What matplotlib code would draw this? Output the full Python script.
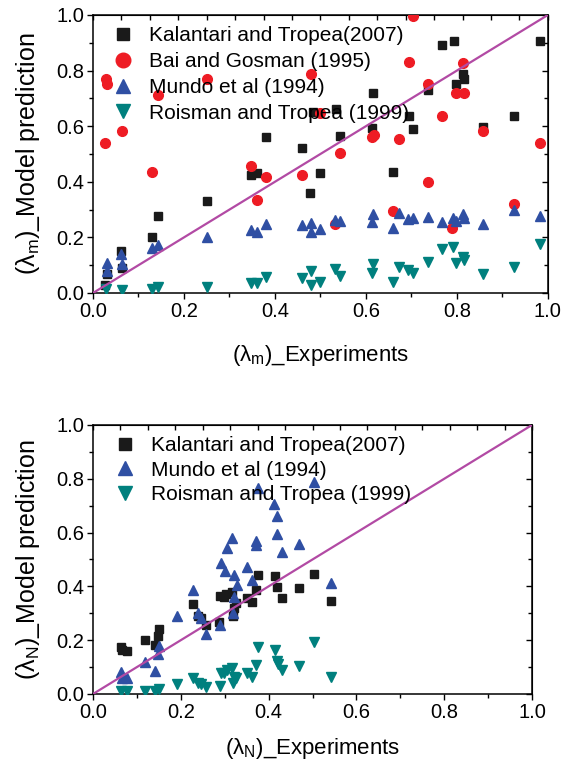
import numpy as np
import matplotlib
matplotlib.use("Agg")
import matplotlib.pyplot as plt
from matplotlib.ticker import MultipleLocator

plt.rcParams['font.family'] = ['Liberation Sans', 'DejaVu Sans']
plt.rcParams['mathtext.fontset'] = 'custom'
plt.rcParams['mathtext.rm'] = 'Liberation Sans'

# ---------------- data: top panel (lambda_m) ----------------
kal_m_x = [0.026, 0.03, 0.062, 0.064, 0.13, 0.143, 0.25, 0.347, 0.36, 0.38, 0.46, 0.477, 0.483, 0.50,
           0.534, 0.543, 0.613, 0.615, 0.66, 0.695, 0.703, 0.736, 0.767, 0.793, 0.798, 0.813, 0.815,
           0.857, 0.925, 0.982]
kal_m_y = [0.03, 0.07, 0.15, 0.09, 0.20, 0.277, 0.33, 0.425, 0.43, 0.56, 0.52, 0.36, 0.65, 0.43,
           0.66, 0.565, 0.593, 0.72, 0.435, 0.637, 0.59, 0.73, 0.892, 0.906, 0.752, 0.788, 0.77,
           0.597, 0.637, 0.907]

bai_m_x = [0.026, 0.029, 0.03, 0.064, 0.13, 0.143, 0.25, 0.347, 0.36, 0.38, 0.46, 0.48, 0.50, 0.532,
           0.543, 0.613, 0.617, 0.66, 0.672, 0.695, 0.703, 0.736, 0.736, 0.767, 0.79, 0.798, 0.813,
           0.815, 0.857, 0.925, 0.982]
bai_m_y = [0.54, 0.77, 0.75, 0.583, 0.435, 0.712, 0.77, 0.457, 0.335, 0.418, 0.425, 0.787, 0.648, 0.248,
           0.503, 0.56, 0.568, 0.295, 0.554, 0.83, 0.996, 0.75, 0.40, 0.637, 0.233, 0.72, 0.826,
           0.72, 0.583, 0.32, 0.54]

mun_m_x = [0.03, 0.03, 0.062, 0.064, 0.13, 0.143, 0.25, 0.347, 0.36, 0.38, 0.46, 0.48, 0.479, 0.5,
           0.532, 0.543, 0.613, 0.615, 0.66, 0.672, 0.692, 0.703, 0.736, 0.767, 0.791, 0.798, 0.813,
           0.815, 0.857, 0.925, 0.982]
mun_m_y = [0.107, 0.08, 0.14, 0.105, 0.162, 0.172, 0.20, 0.227, 0.22, 0.248, 0.245, 0.252, 0.22, 0.23,
           0.262, 0.259, 0.255, 0.284, 0.234, 0.288, 0.266, 0.27, 0.274, 0.255, 0.27, 0.259, 0.284,
           0.27, 0.248, 0.298, 0.277]

roi_m_x = [0.029, 0.064, 0.13, 0.143, 0.25, 0.347, 0.36, 0.38, 0.46, 0.48, 0.479, 0.5,
           0.532, 0.543, 0.613, 0.615, 0.66, 0.672, 0.692, 0.703, 0.736, 0.767, 0.791, 0.798, 0.813,
           0.815, 0.857, 0.925, 0.982]
roi_m_y = [0.014, 0.011, 0.014, 0.02, 0.022, 0.035, 0.035, 0.058, 0.053, 0.08, 0.03, 0.04,
           0.086, 0.061, 0.072, 0.104, 0.04, 0.094, 0.083, 0.072, 0.112, 0.158, 0.166, 0.108, 0.13,
           0.119, 0.068, 0.093, 0.176]

# ---------------- data: bottom panel (lambda_N) ----------------
kal_n_x = [0.063, 0.065, 0.078, 0.118, 0.141, 0.147, 0.15, 0.228, 0.24, 0.245, 0.257, 0.288, 0.289,
           0.299, 0.302, 0.316, 0.318, 0.321, 0.326, 0.35, 0.361, 0.371, 0.375, 0.415, 0.42, 0.431,
           0.468, 0.503, 0.541]
kal_n_y = [0.176, 0.164, 0.16, 0.20, 0.182, 0.217, 0.242, 0.333, 0.29, 0.284, 0.257, 0.269, 0.364,
           0.362, 0.37, 0.38, 0.29, 0.32, 0.338, 0.356, 0.343, 0.387, 0.442, 0.439, 0.399, 0.356,
           0.395, 0.445, 0.346]

mun_n_x = [0.063, 0.065, 0.078, 0.118, 0.141, 0.147, 0.15, 0.191, 0.228, 0.24, 0.245, 0.257, 0.289,
           0.291, 0.301, 0.304, 0.316, 0.318, 0.321, 0.321, 0.329, 0.35, 0.363, 0.371, 0.371, 0.375,
           0.413, 0.42, 0.42, 0.431, 0.468, 0.504, 0.541]
mun_n_y = [0.081, 0.061, 0.061, 0.12, 0.085, 0.148, 0.178, 0.29, 0.387, 0.30, 0.281, 0.223, 0.257,
           0.486, 0.457, 0.542, 0.579, 0.302, 0.362, 0.442, 0.405, 0.471, 0.424, 0.57, 0.554, 0.765,
           0.705, 0.662, 0.594, 0.527, 0.558, 0.789, 0.411]

roi_n_x = [0.063, 0.077, 0.118, 0.141, 0.15, 0.191, 0.228, 0.24, 0.245, 0.257, 0.289, 0.291, 0.299,
           0.304, 0.316, 0.321, 0.318, 0.326, 0.35, 0.363, 0.371, 0.375, 0.415, 0.42, 0.422, 0.431,
           0.468, 0.504, 0.541]
roi_n_y = [0.012, 0.012, 0.012, 0.012, 0.02, 0.037, 0.058, 0.04, 0.036, 0.027, 0.031, 0.079, 0.079,
           0.089, 0.098, 0.064, 0.042, 0.058, 0.077, 0.064, 0.108, 0.176, 0.164, 0.124, 0.112, 0.089,
           0.104, 0.194, 0.064]

ticks = [0.0, 0.2, 0.4, 0.6, 0.8, 1.0]
tick_labels = ['0.0', '0.2', '0.4', '0.6', '0.8', '1.0']

C_K = '#1a1a1a'
C_B = '#ee1c24'
C_M = '#2f4fa3'
C_R = '#00807e'
C_L = '#b24aa4'

fig = plt.figure(figsize=(5.63, 7.71), dpi=100)
ax1 = fig.add_axes([0.1652, 0.620, 0.808, 0.3606])
ax2 = fig.add_axes([0.1652, 0.0999, 0.780, 0.349])


def style(ax):
    ax.set_xlim(0, 1)
    ax.set_ylim(0, 1)
    ax.set_xticks(ticks)
    ax.set_xticklabels(tick_labels)
    ax.set_yticks(ticks)
    ax.set_yticklabels(tick_labels)
    ax.xaxis.set_minor_locator(MultipleLocator(0.1))
    ax.yaxis.set_minor_locator(MultipleLocator(0.1))
    ax.tick_params(which='both', direction='out', labelsize=14.5, width=1.0, pad=2)
    ax.tick_params(which='major', length=4.5)
    ax.tick_params(which='minor', length=3)
    sec = ax.secondary_xaxis('top')
    sec.set_xticks(np.arange(0, 1.0001, 1 / 16))
    sec.tick_params(direction='in', length=3.5, width=1.0, labeltop=False)
    sec.set_xticklabels([])
    sec2 = ax.secondary_yaxis('right')
    sec2.set_yticks(ticks)
    sec2.set_yticks(np.arange(0.1, 1.0, 0.2), minor=True)
    sec2.tick_params(which='both', direction='in', width=1.0, labelright=False)
    sec2.tick_params(which='major', length=4.5)
    sec2.tick_params(which='minor', length=3)
    sec2.set_yticklabels([])
    for sp in ax.spines.values():
        sp.set_linewidth(1.1)
    ax.plot([0, 1], [0, 1], color=C_L, lw=1.6, zorder=5)


LEG = dict(loc='upper left', frameon=False, fontsize=15, markerscale=1.5,
           handlelength=1.0, handletextpad=0.75, borderaxespad=0.0)

style(ax1)
ax1.plot(kal_m_x, kal_m_y, 's', color=C_K, ms=5.5, ls='none', label='Kalantari and Tropea(2007)', zorder=3)
ax1.plot(bai_m_x, bai_m_y, 'o', color=C_B, ms=7.0, ls='none', label='Bai and Gosman (1995)', zorder=3)
ax1.plot(mun_m_x, mun_m_y, '^', color=C_M, ms=6.5, ls='none', label='Mundo et al (1994)', zorder=3)
ax1.plot(roi_m_x, roi_m_y, 'v', color=C_R, ms=6.5, ls='none', label='Roisman and Tropea (1999)', zorder=3)
ax1.set_xlabel('(λ$_\\mathregular{m}$)_Experiments', fontsize=16, labelpad=16)
ax1.set_ylabel('(λ$_\\mathregular{m}$)_Model prediction', fontsize=18, labelpad=10)
ax1.legend(bbox_to_anchor=(0.025, 0.99), labelspacing=0.33, **LEG)

style(ax2)
ax2.plot(kal_n_x, kal_n_y, 's', color=C_K, ms=5.5, ls='none', label='Kalantari and Tropea(2007)', zorder=3)
ax2.plot(mun_n_x, mun_n_y, '^', color=C_M, ms=6.5, ls='none', label='Mundo et al (1994)', zorder=3)
ax2.plot(roi_n_x, roi_n_y, 'v', color=C_R, ms=6.5, ls='none', label='Roisman and Tropea (1999)', zorder=3)
ax2.set_xlabel('(λ$_\\mathregular{N}$)_Experiments', fontsize=16, labelpad=10)
ax2.set_ylabel('(λ$_\\mathregular{N}$)_Model prediction', fontsize=18, labelpad=10)
ax2.legend(bbox_to_anchor=(0.03, 0.99), labelspacing=0.27, **LEG)

fig.savefig('out.png', dpi=100)
